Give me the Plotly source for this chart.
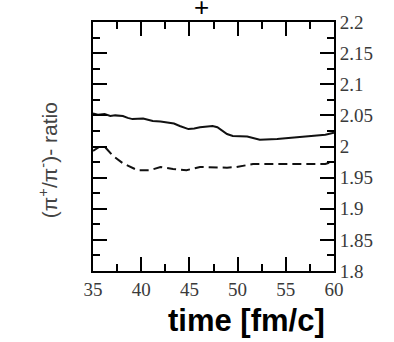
import plotly.graph_objects as go

# time axis (fm/c) and pion ratio curves
time_solid = [35.0, 35.5, 36.2, 36.8, 37.3, 38.1, 38.6, 39.1, 40.2, 41.2, 42.0, 42.7,
              43.4, 44.0, 44.9, 45.5, 46.1, 47.4, 47.9, 48.9, 49.5, 51.0, 52.3,
              54.1, 55.7, 57.5, 59.1, 60.0]
ratio_solid = [2.053, 2.051, 2.052, 2.049, 2.050, 2.049, 2.046, 2.044, 2.045, 2.041,
               2.040, 2.039, 2.037, 2.033, 2.028, 2.029, 2.031, 2.033, 2.031, 2.020,
               2.017, 2.016, 2.011, 2.012, 2.014, 2.016, 2.019, 2.022]

time_dashed = [35.0, 35.6, 36.2, 37.0, 38.1, 39.6, 40.9, 42.0, 43.3, 44.7, 46.1,
               47.4, 48.9, 49.9, 51.6, 53.4, 55.1, 57.2, 59.1, 60.0]
ratio_dashed = [1.993, 1.999, 2.000, 1.986, 1.973, 1.962, 1.962, 1.967, 1.964, 1.962,
                1.967, 1.966, 1.966, 1.967, 1.972, 1.972, 1.972, 1.971, 1.972, 1.976]

x_ticks = [35, 40, 45, 50, 55, 60]
x_tick_text = ["35", "40", "45", "50", "55", "60"]
y_ticks = [1.8, 1.85, 1.9, 1.95, 2.0, 2.05, 2.1, 2.15, 2.2]
y_tick_text = ["1.8", "1.85", "1.9", "1.95", "2", "2.05", "2.1", "2.15", "2.2"]

tick_font = dict(family="Liberation Serif", size=19, color="#3a3a3a")

fig = go.Figure()
fig.add_trace(go.Scatter(x=time_solid, y=ratio_solid, mode="lines",
                         line=dict(color="#111111", width=2)))
fig.add_trace(go.Scatter(x=time_dashed, y=ratio_dashed, mode="lines",
                         line=dict(color="#111111", width=2, dash="9px,5px")))

axis_common = dict(showline=True, linecolor="black", linewidth=2, mirror="allticks",
                   ticks="inside", ticklen=14, tickwidth=2, tickcolor="black",
                   showgrid=False, zeroline=False, tickfont=tick_font)

fig.update_xaxes(range=[35, 60], tickvals=x_ticks, ticktext=x_tick_text,
                 minor=dict(ticks="inside", ticklen=7, tickwidth=2, dtick=2.5,
                            tickcolor="black"),
                 **axis_common)
fig.update_yaxes(range=[1.8, 2.2], side="right", tickvals=y_ticks, ticktext=y_tick_text,
                 minor=dict(ticks="inside", ticklen=7, tickwidth=2, dtick=0.025,
                            tickcolor="black"),
                 **axis_common)

fig.add_annotation(text="(π<sup>+</sup>/π<sup>-</sup>)- ratio", xref="paper", yref="paper",
                   x=-0.187, y=0.445, xanchor="center", yanchor="middle", textangle=-90,
                   showarrow=False,
                   font=dict(family="Liberation Sans", size=21, color="#444444"))
fig.add_annotation(text="<b>time [fm/c]</b>", xref="paper", yref="paper",
                   x=0.639, y=-0.199, xanchor="center", yanchor="middle",
                   showarrow=False,
                   font=dict(family="Liberation Sans", size=31, color="black"))
fig.add_annotation(text="+", xref="paper", yref="paper", x=0.452, y=1.062,
                   xanchor="center", yanchor="middle", showarrow=False,
                   font=dict(family="Liberation Sans", size=26, color="#000000"))

fig.update_layout(width=394, height=342, showlegend=False,
                  margin=dict(l=93, r=60, t=15, b=71),
                  plot_bgcolor="white", paper_bgcolor="white")

fig.write_html("out.html")
